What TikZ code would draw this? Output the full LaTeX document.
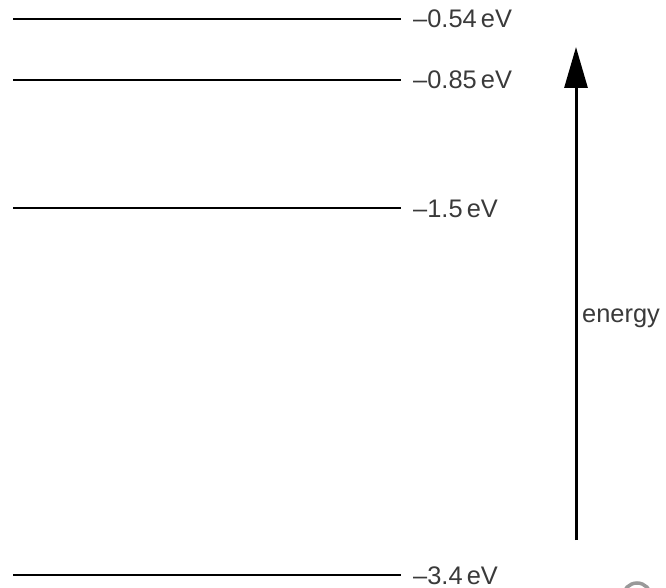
\documentclass[tikz,border=0pt]{standalone}
\usepackage{fontspec}
\setmainfont{Liberation Sans}
\usetikzlibrary{arrows.meta}
\definecolor{txt}{HTML}{3A3A3A}
\tikzset{
  level/.style={line width=2.8bp, black},
  lab/.style={anchor=base west, inner sep=0pt, text=txt, font=\fontsize{25.5}{30}\selectfont},
  energyarrow/.style={line width=3bp, -{Triangle[length=41bp, width=23bp]}}
}
\begin{document}
\begin{tikzpicture}[x=1bp, y=-1bp]
\useasboundingbox (0,0) rectangle (666,588);
% levels
\coordinate (a1) at (13,19);  \coordinate (b1) at (401,19);
\coordinate (a2) at (13,80);  \coordinate (b2) at (401,80);
\coordinate (a3) at (13,208); \coordinate (b3) at (401,208);
\coordinate (a4) at (13,575); \coordinate (b4) at (401,575);
\draw[level] (a1) -- (b1);
\draw[level] (a2) -- (b2);
\draw[level] (a3) -- (b3);
\draw[level] (a4) -- (b4);
\node[lab] (l1) at (413,28) {–0.54\,eV};
\node[lab] (l2) at (413,89) {–0.85\,eV};
\node[lab] (l3) at (413,217) {–1.5\,eV};
\node[lab] (l4) at (413,584) {–3.4\,eV};
% energy arrow
\coordinate (ab) at (576,540);
\coordinate (at) at (576,47);
\draw[energyarrow] (ab) -- (at);
\node[lab] (en) at (582,322) {energy};
% watermark fragment
\begin{scope}
\clip (0,0) rectangle (666,588);
\draw[line width=3.5bp, black!40] (637,597) circle (14);
\end{scope}
\end{tikzpicture}
\end{document}
